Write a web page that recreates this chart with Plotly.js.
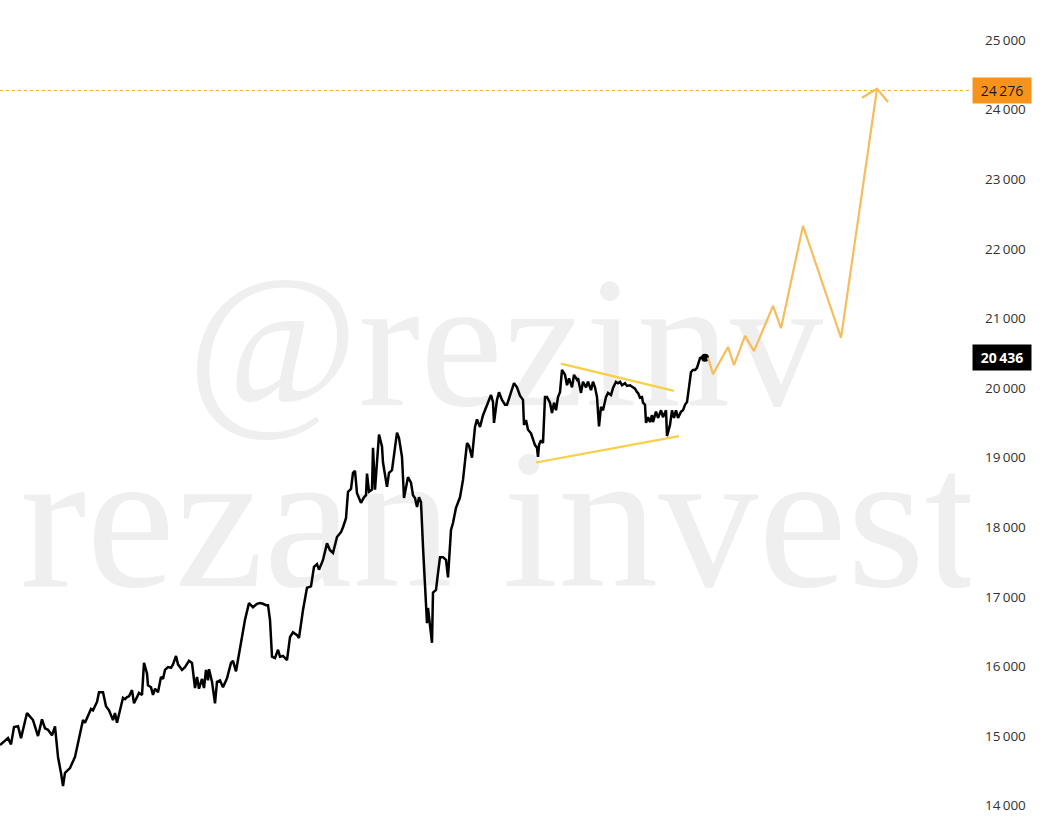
<!DOCTYPE html>
<html>
<head>
<meta charset="utf-8">
<script src="https://cdn.plot.ly/plotly-3.0.1.min.js"></script>
<style>
  html, body { margin: 0; padding: 0; background: #ffffff; }
  #chart { width: 1042px; height: 819px; }
</style>
</head>
<body>
<div id="chart"></div>
<script>
// Bar index (time) and close values of the price line
const priceT = [0,8,11,14,18,21,23,27,33,38,42,45,48,50,52,55,58,61,63,65,70,75,79,83,85,87,91,93,97,99,103,106,109,113,115,117,120,
123,125,127,129,132,134,137,139,142,144,147,148,151,153,155,158,161,163,165,168,171,173,176,178,182,185,189,192,195,197,199,202,204,206,208,209,212,215,217,220,223,227,231,233,236,240,
245,249,253,257,260,263,266,268,270,272,275,278,280,283,287,290,293,297,299,303,307,311,314,317,319,323,327,330,333,337,341,343,346,348,351,353,355,357,361,364,366,367,369,372,373,375,377,379,382,383,387,389,392,394,397,399,402,404,406,408,411,413,415,417,419,421,423,425,427,428,430,432,433,436,438,440,443,446,448,451,453,456,460,463,
467,469,472,475,477,480,483,486,488,491,493,494,497,499,502,505,507,510,514,517,520,523,524,526,528,531,533,535,537,538,539,541,543,545,547,550,552,554,556,558,560,562,565,567,569,572,574,577,
578,581,583,586,588,591,593,595,597,599,601,603,606,608,611,613,616,618,620,622,625,627,630,633,635,637,638,640,642,643,645,646,648,650,652,653,656,658,661,663,666,667,670,672,674,676,678,681,683,685,687,689,691,693,695,697,700,703,705];
const priceV = [14870,14970,14880,15130,15140,14970,15090,15330,15230,15000,15240,15110,15090,15040,15010,15140,14700,14470,14280,14470,14540,14700,14980,15230,15190,15260,15390,15370,15490,15630,15630,15430,15370,15230,15330,15190,15390,
15550,15530,15560,15570,15660,15470,15560,15620,15590,16050,15900,15730,15700,15590,15680,15630,15850,15820,15950,15990,15980,16030,16150,16030,15950,15990,16080,16050,15690,15850,15680,15820,15690,15950,15800,15960,15780,15470,15780,15800,15700,15830,16050,16080,15930,16260,
16670,16910,16850,16900,16910,16900,16880,16880,16670,16140,16120,16240,16140,16150,16090,16420,16490,16450,16410,16810,17130,17150,17430,17470,17390,17530,17770,17670,17630,17860,17930,18000,18130,18510,18550,18780,18810,18490,18350,18430,18460,18770,18510,18540,19140,18540,19010,19330,19160,18930,18580,18780,18820,19070,19360,19280,19010,18420,18580,18720,18640,18460,18420,18290,18430,18360,17720,17060,16620,16840,16570,16340,17060,17100,17340,17570,17570,17530,17280,17960,18060,18280,18430,18680,
19210,19170,19000,19440,19550,19440,19610,19730,19780,19900,19800,19500,19830,19940,19830,19760,19760,19900,20070,20010,19890,19830,19470,19540,19400,19350,19250,19180,19140,19010,19180,19250,19210,19870,19870,19790,19640,19790,19680,19870,19940,20260,20190,20040,20140,20010,20190,20120,
20140,19930,20090,20010,20090,19970,20090,20010,19870,19450,19730,19680,19870,19930,19900,20000,20090,20070,20090,20040,20070,20030,20040,20010,19990,19940,19930,19860,19870,19790,19760,19500,19580,19510,19610,19510,19660,19570,19680,19580,19680,19310,19470,19680,19570,19680,19570,19660,19680,19760,19800,20010,20230,20260,20260,20290,20430,20450,20436];

// Projected path (orange) and arrow head
const projT = [708,713,728,734,745,754,773,781,803,841,877];
const projV = [20436,20200,20590,20330,20750,20530,21180,20860,22330,20720,24300];
const arrowT = [862,877,888];
const arrowV = [24170,24300,24110];

// Triangle pattern (yellow trend lines)
const upperT = [561,674];
const upperV = [20350,19960];
const lowerT = [536,679];
const lowerV = [18930,19310];

// Price labels
const lastPrice = 20436;
const targetPrice = 24276;

// Watermark texts
const watermarkText = ['@rezinv', 'rezan invest'];
const watermarkT = [505, 500];
const watermarkV = [20430, 17880];

// Axis ticks
const tickVals = [14000,15000,16000,17000,18000,19000,20000,21000,22000,23000,24000,25000];
const tickText = ["14\u2009000","15\u2009000","16\u2009000","17\u2009000","18\u2009000","19\u2009000","20\u2009000","21\u2009000","22\u2009000","23\u2009000","24\u2009000","25\u2009000"];

const fmt = v => String(v).replace(/\B(?=(\d{3})+(?!\d))/g, "\u2009");
const serif = 'Liberation Serif, DejaVu Serif, serif';

const traces = [
  {x: [watermarkT[0]], y: [watermarkV[0]], type: 'scatter', mode: 'text', text: [watermarkText[0]],
   textposition: 'middle center', textfont: {family: serif, size: 186, color: '#efefef'}, hoverinfo: 'skip'},
  {x: [watermarkT[1]], y: [watermarkV[1]], type: 'scatter', mode: 'text', text: [watermarkText[1]],
   textposition: 'middle center', textfont: {family: serif, size: 200, color: '#efefef'}, hoverinfo: 'skip'},
  {x: priceT, y: priceV, type: 'scatter', mode: 'lines',
   line: {color: '#000000', width: 2.5}, hoverinfo: 'skip'},
  {x: [priceT[priceT.length-1]], y: [priceV[priceV.length-1]], type: 'scatter', mode: 'markers',
   marker: {color: '#000000', size: 8}, hoverinfo: 'skip'},
  {x: projT, y: projV, type: 'scatter', mode: 'lines',
   line: {color: '#f7bd5c', width: 2.2}, hoverinfo: 'skip'},
  {x: arrowT, y: arrowV, type: 'scatter', mode: 'lines',
   line: {color: '#f7bd5c', width: 2.2}, hoverinfo: 'skip'},
  {x: upperT, y: upperV, type: 'scatter', mode: 'lines',
   line: {color: '#f9cf45', width: 2.2}, hoverinfo: 'skip'},
  {x: lowerT, y: lowerV, type: 'scatter', mode: 'lines',
   line: {color: '#f9cf45', width: 2.2}, hoverinfo: 'skip'}
];

const layout = {
  width: 1042, height: 819,
  margin: {l: 0, r: 72, t: 0, b: 0},
  paper_bgcolor: '#ffffff', plot_bgcolor: '#ffffff',
  showlegend: false,
  xaxis: {range: [0, 970], visible: false, fixedrange: true},
  yaxis: {
    side: 'right', range: [13808, 25575],
    tickvals: tickVals, ticktext: tickText,
    showgrid: false, zeroline: false, showline: false, ticks: '',
    ticklabelstandoff: 14,
    tickfont: {family: 'Open Sans, Roboto, sans-serif', size: 13.5, color: '#333333'}
  },
  shapes: [
    {type: 'line', xref: 'paper', x0: 0, x1: 1, yref: 'y', y0: targetPrice, y1: targetPrice,
     line: {color: '#f5a623', width: 1, dash: 'dot'}, layer: 'below'}
  ],
  annotations: [
    {xref: 'paper', yref: 'y', x: 1.0, y: targetPrice, xanchor: 'left', yanchor: 'middle',
     text: fmt(targetPrice), showarrow: false, bgcolor: '#f7931a', borderpad: 3, xshift: 2,
     width: 52, align: 'center',
     font: {family: 'Open Sans, Roboto, sans-serif', size: 14, color: '#1a1a1a'}},
    {xref: 'paper', yref: 'y', x: 1.0, y: lastPrice, xanchor: 'left', yanchor: 'middle',
     text: '<b>' + fmt(lastPrice) + '</b>', showarrow: false, bgcolor: '#000000', borderpad: 3, xshift: 2,
     width: 52, align: 'center',
     font: {family: 'Open Sans, Roboto, sans-serif', size: 14, color: '#ffffff'}}
  ]
};

Plotly.newPlot('chart', traces, layout, {displayModeBar: false, staticPlot: true});
</script>
</body>
</html>
